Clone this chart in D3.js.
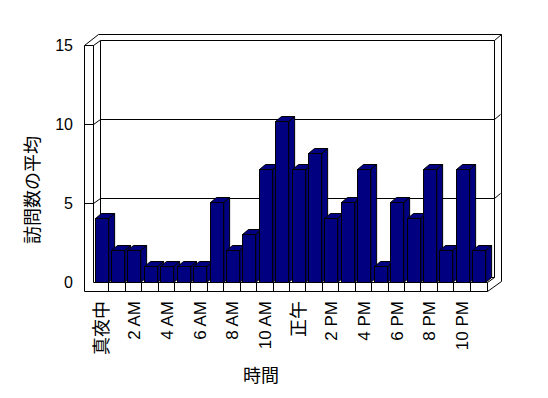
<!DOCTYPE html>
<html>
<head>
<meta charset="utf-8">
<script src="https://cdn.jsdelivr.net/npm/d3@7.9.0/dist/d3.min.js"></script>
<style>
  body { margin: 0; background: #fff; }
  text { font-family: "Liberation Sans", "Noto Sans CJK JP", sans-serif; font-size: 16px; fill: #000; }
  text.xl { font-size: 17px; }
  text.cjk { font-size: 18px; }
</style>
</head>
<body>
<svg width="548" height="398"></svg>
<script>
// data
const hours = ['0','1','2','3','4','5','6','7','8','9','10','11','12','13','14','15','16','17','18','19','20','21','22','23'];
const visits = [4, 2, 2, 1, 1, 1, 1, 5, 2, 3, 7, 10, 7, 8, 4, 5, 7, 1, 5, 4, 7, 2, 7, 2];
const hourLabels = ['真夜中', '2 AM', '4 AM', '6 AM', '8 AM', '10 AM', '正午', '2 PM', '4 PM', '6 PM', '8 PM', '10 PM'];
const yTicks = [0, 5, 10, 15];

const svg = d3.select('svg');
const isCjk = s => /[^\x00-\x7f]/.test(s) && !/[A-Za-z0-9]/.test(s);

// front plane scales
let x = d3.scaleBand().domain(hours).range([93, 487]).paddingInner(0.2).paddingOuter(0.1);
let y = d3.scaleLinear().domain([0, 15]).range([282, 45]);
// bars sit nearer the viewer, so perspective makes them a bit taller
let yBar = d3.scaleLinear().domain([0, 15]).range([282, 40.5]);

// 3d offsets
const dx = 7, dy = -5;      // plot depth
const wall = 9;             // wall thickness
const bdx = 6, bdy = -5;    // bar depth

const x0 = 93, x1 = 487;
const line = (pts) => 'M' + pts.map(p => p.join(',')).join('L');

const g = svg.append('g').attr('fill', 'none').attr('stroke', '#000').attr('stroke-width', 1)
  .attr('transform', 'translate(0.5,0.5)');

// walls outline
g.append('path').attr('fill', '#fff').attr('d', line([
  [x0 - wall, y(15)], [x0 - wall + 2 * dx, y(15) + 2 * dy - 1], [x1 + 2 * dx, y(15) + 2 * dy - 1],
  [x1 + 2 * dx, y(0) + 9 + 2 * dy], [x1, y(0) + 9], [x0 - wall, y(0) + 9]
]) + 'Z');

// back wall top / right inner edges
g.append('path').attr('d', line([[x0 + dx, y(15) + dy], [x1 + dx, y(15) + dy], [x1 + 2 * dx, y(15) + 2 * dy - 1]]));
g.append('path').attr('d', line([[x1 + dx, y(15) + dy], [x1 + dx, y(0) + dy]]));
g.append('path').attr('d', line([[x0 - wall, y(15)], [x0, y(15)], [x0 + dx, y(15) + dy]]));

// vertical wall edges
g.append('path').attr('d', line([[x0, y(15)], [x0, y(0)]]));
g.append('path').attr('d', line([[x0 + dx, y(15) + dy], [x0 + dx, y(0) + dy]]));

// gridlines on back wall + left wall
yTicks.filter(v => v > 0 && v < 15).forEach(v => {
  g.append('path').attr('d', line([
    [x0 - wall, y(v)], [x0, y(v)], [x0 + dx, y(v) + dy], [x1 + dx, y(v) + dy], [x1 + 2 * dx - 1, y(v) + 2 * dy]
  ]));
});

// floor
g.append('path').attr('d', line([[x0 + dx, y(0) + dy], [x1 + dx, y(0) + dy], [x1, y(0)], [x0, y(0)]]));
g.append('path').attr('d', line([[x1, y(0)], [x1, y(0) + 9]]));
d3.range(1, hours.length).forEach(i => {
  let xi = Math.round(x(hours[i]) - x.step() * 0.2 / 2 - 1);
  g.append('path').attr('d', line([[xi, y(0)], [xi, y(0) + 9]]));
});

// bars
const bw = x.bandwidth();
hours.forEach((h, i) => {
  let bx = Math.round(x(h)), by = Math.round(yBar(visits[i])), base = yBar(0);
  let bar = g.append('g').attr('fill', '#000080');
  bar.append('path').attr('d', line([[bx + bw, by], [bx + bw + bdx, by + bdy], [bx + bw + bdx, base + bdy], [bx + bw, base]]) + 'Z');
  bar.append('path').attr('d', line([[bx, by], [bx + bdx, by + bdy], [bx + bw + bdx, by + bdy], [bx + bw, by]]) + 'Z');
  bar.append('rect').attr('x', bx).attr('y', by).attr('width', bw).attr('height', base - by);
});

// y labels
svg.append('g').selectAll('text').data(yTicks).join('text')
  .attr('x', 73).attr('y', d => y(d)).attr('dy', '0.35em')
  .attr('text-anchor', 'end').text(d => d);

// x labels, every second hour
svg.append('g').selectAll('text').data(hourLabels).join('text')
  .attr('class', d => isCjk(d) ? 'cjk' : 'xl')
  .attr('transform', (d, i) => `translate(${x(hours[i * 2]) + bw / 2},301) rotate(-90)`)
  .attr('dy', '0.35em').attr('text-anchor', 'end').text(d => d);

// axis titles
svg.append('text').attr('class', 'cjk').attr('transform', 'translate(33,190) rotate(-90)')
  .attr('text-anchor', 'middle').attr('dy', '0.35em').text('訪問数の平均');
svg.append('text').attr('class', 'cjk').attr('x', 261).attr('y', 376).attr('dy', '0.35em')
  .attr('text-anchor', 'middle').text('時間');
</script>
</body>
</html>
